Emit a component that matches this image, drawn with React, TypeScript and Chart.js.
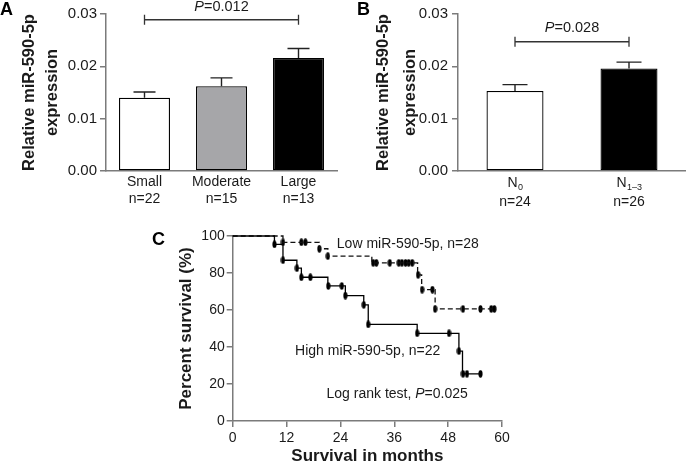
import React, { useEffect, useRef } from 'react';
import { Chart, registerables } from 'chart.js';

Chart.register(...registerables);

// ---------- Panel A: tumour size ----------
const sizeCategories = ['Small', 'Moderate', 'Large'];
const sizeCounts = ['n=22', 'n=15', 'n=13'];
const sizeMeans = [0.014, 0.0162, 0.0216];
const sizeErrors = [0.0011, 0.0016, 0.0018];
const sizePValue = '0.012';

// ---------- Panel B: lymph node ----------
const nodeMain = ['N', 'N'];
const nodeSub = ['0', '1–3'];
const nodeCounts = ['n=24', 'n=26'];
const nodeMeans = [0.0153, 0.0196];
const nodeErrors = [0.0012, 0.0012];
const nodePValue = '0.028';

// shared bar y ticks
const barYMin = 0;
const barYMax = 0.03;
const barYStep = 0.01;

// ---------- Panel C: Kaplan–Meier ----------
const highTimes = [0, 9.3, 11.2, 14.3, 15.3, 21.2, 25.1, 29.2, 30.2, 41.1, 50.4, 51.2, 55.2];
const highSurvival = [100, 95.5, 86.9, 82.6, 77.7, 73.0, 67.8, 62.8, 52.2, 47.4, 37.8, 25.5, 25.5];
const highCensored = [9.3, 11.2, 14.3, 15.3, 17.3, 21.3, 24.3, 25.1, 29.2, 30.2, 41.1, 48.2, 50.4, 51.3, 52.2, 55.2];
const lowTimes = [0, 11.2, 19.3, 21.2, 31.0, 41.2, 42.1, 45.1, 58.3];
const lowSurvival = [100, 96.6, 93.1, 89.1, 85.5, 79.0, 71.0, 60.6, 60.6];
const lowCensored = [11.2, 15.3, 16.2, 19.3, 21.2, 31.3, 32.0, 35.0, 37.0, 37.7, 38.5, 39.2, 40.0, 41.3, 42.2, 44.5, 45.1, 51.3, 55.2, 57.6, 58.3];
const kmXTicks = { min: 0, max: 60, step: 12 };
const kmYTicks = { min: 0, max: 100, step: 20 };
const lowLabel = 'Low miR-590-5p, n=28';
const highLabel = 'High miR-590-5p, n=22';
const logRankPrefix = 'Log rank test, ';
const logRankP = '0.025';

// ---------- styles ----------
const FONT = '"Liberation Sans", Arial, Helvetica, sans-serif';
const AXIS = '#7b7b7b';
const TEXT = '#1a1a1a';

function levelAt(times: number[], surv: number[], t: number) {
  let v = surv[0];
  for (let i = 0; i < times.length; i++) if (times[i] <= t + 1e-9) v = surv[i];
  return v;
}

function drawPText(ctx: CanvasRenderingContext2D, x: number, y: number, prefix: string, value: string, size: number, align: 'center' | 'left') {
  ctx.save();
  ctx.fillStyle = TEXT;
  ctx.textBaseline = 'middle';
  ctx.textAlign = 'left';
  const normal = `${size}px ${FONT}`;
  const italic = `italic ${size}px ${FONT}`;
  ctx.font = normal;
  const w0 = ctx.measureText(prefix).width;
  const rest = '=' + value;
  const w2 = ctx.measureText(rest).width;
  ctx.font = italic;
  const w1 = ctx.measureText('P').width;
  let x0 = align === 'center' ? x - (w0 + w1 + w2) / 2 : x;
  ctx.font = normal;
  if (prefix) ctx.fillText(prefix, x0, y);
  ctx.font = italic;
  ctx.fillText('P', x0 + w0, y);
  ctx.font = normal;
  ctx.fillText(rest, x0 + w0 + w1, y);
  ctx.restore();
}

function drawLetter(ctx: CanvasRenderingContext2D, letter: string, x: number, y: number) {
  ctx.save();
  ctx.fillStyle = '#000';
  ctx.font = `bold 18px ${FONT}`;
  ctx.textBaseline = 'alphabetic';
  ctx.textAlign = 'left';
  ctx.fillText(letter, x, y);
  ctx.restore();
}

const errorBarPlugin = {
  id: 'errorBars',
  afterDatasetsDraw(chart: any, _a: any, opts: any) {
    const { ctx } = chart;
    const meta = chart.getDatasetMeta(0);
    const ys = chart.scales.y;
    const ds = chart.data.datasets[0];
    ctx.save();
    ctx.strokeStyle = '#222';
    ctx.lineWidth = 1.4;
    meta.data.forEach((bar: any, i: number) => {
      const v = ds.data[i] as number;
      const yTop = ys.getPixelForValue(v + opts.errors[i]);
      ctx.beginPath();
      ctx.moveTo(bar.x, bar.y);
      ctx.lineTo(bar.x, yTop);
      ctx.moveTo(bar.x - opts.cap / 2, yTop);
      ctx.lineTo(bar.x + opts.cap / 2, yTop);
      ctx.stroke();
    });
    ctx.restore();
  },
};

const bracketPlugin = {
  id: 'bracket',
  afterDraw(chart: any, _a: any, opts: any) {
    const { ctx } = chart;
    const xs = chart.scales.x;
    const ys = chart.scales.y;
    const x1 = xs.getPixelForValue(opts.from);
    const x2 = xs.getPixelForValue(opts.to);
    const y = ys.getPixelForValue(opts.level);
    ctx.save();
    ctx.strokeStyle = '#333';
    ctx.lineWidth = 1.3;
    ctx.beginPath();
    ctx.moveTo(x1, y); ctx.lineTo(x2, y);
    ctx.moveTo(x1, y - 5); ctx.lineTo(x1, y + 5);
    ctx.moveTo(x2, y - 5); ctx.lineTo(x2, y + 5);
    ctx.stroke();
    ctx.restore();
    drawPText(ctx, (x1 + x2) / 2, ys.getPixelForValue(opts.textLevel), '', opts.p, 14.5, 'center');
    drawLetter(ctx, opts.letter, opts.letterX, 15);
  },
};

function barYScale(width: number, tickPad: number, lineHeight: number, titlePad: number) {
  return {
    min: barYMin,
    max: barYMax,
    ticks: {
      stepSize: barYStep,
      callback: (v: any) => Number(v).toFixed(2),
      font: { family: FONT, size: 15 },
      color: TEXT,
      padding: tickPad,
    },
    grid: { drawOnChartArea: false, tickLength: 6, color: AXIS, lineWidth: 1.5 },
    border: { color: AXIS, width: 1.5 },
    title: {
      display: true,
      text: ['Relative miR-590-5p', 'expression'],
      font: { family: FONT, size: 16.5, weight: 'bold', lineHeight },
      color: TEXT,
      padding: { top: titlePad, bottom: 0 },
    },
    afterFit: (s: any) => { s.width = width; },
  };
}

function makeMark() {
  const c = document.createElement('canvas');
  c.width = 5; c.height = 8;
  const g = c.getContext('2d')!;
  g.fillStyle = '#000';
  g.beginPath();
  g.ellipse(2.5, 4, 2.1, 3.7, 0, 0, Math.PI * 2);
  g.fill();
  return c;
}

export default function App() {
  const refA = useRef<HTMLCanvasElement>(null);
  const refB = useRef<HTMLCanvasElement>(null);
  const refC = useRef<HTMLCanvasElement>(null);

  useEffect(() => {
    const charts: Chart[] = [];

    charts.push(new Chart(refA.current!, {
      type: 'bar',
      data: {
        labels: sizeCategories.map((c, i) => [c, sizeCounts[i]]),
        datasets: [{
          data: sizeMeans,
          backgroundColor: ['#ffffff', '#a6a6a9', '#000000'],
          borderColor: '#000',
          borderWidth: 1.3,
          borderSkipped: false,
          barPercentage: 0.662,
          categoryPercentage: 1,
        }],
      },
      plugins: [errorBarPlugin, bracketPlugin],
      options: {
        responsive: false,
        animation: false,
        layout: { padding: { top: 14, right: 3, left: 0, bottom: 0 } },
        plugins: {
          legend: { display: false },
          tooltip: { enabled: false },
          errorBars: { errors: sizeErrors, cap: 22 },
          bracket: { from: 0, to: 2, level: 0.0289, textLevel: 0.0313, p: sizePValue, letter: 'A', letterX: 0 },
        } as any,
        scales: {
          x: {
            grid: { display: true, drawOnChartArea: false, drawTicks: false, color: AXIS },
            border: { color: AXIS, width: 1.5 },
            ticks: { font: { family: FONT, size: 14 }, color: TEXT, padding: 2.5 },
            afterFit: (s: any) => { s.height = 44; },
          },
          y: barYScale(106, 3, 1.41, 18),
        } as any,
      },
    }));

    const nodeLabelPlugin = {
      id: 'nodeLabels',
      afterDraw(chart: any) {
        const { ctx } = chart;
        const xs = chart.scales.x;
        const base = chart.chartArea.bottom;
        ctx.save();
        ctx.fillStyle = TEXT;
        nodeMain.forEach((m, i) => {
          const cx = xs.getPixelForValue(i);
          ctx.font = `14px ${FONT}`;
          const wm = ctx.measureText(m).width;
          ctx.font = `9px ${FONT}`;
          const ws = ctx.measureText(nodeSub[i]).width;
          const x0 = cx - (wm + ws) / 2;
          ctx.textAlign = 'left';
          ctx.textBaseline = 'alphabetic';
          ctx.font = `14px ${FONT}`;
          ctx.fillText(m, x0, base + 15.5);
          ctx.font = `9px ${FONT}`;
          ctx.fillText(nodeSub[i], x0 + wm + 0.5, base + 19);
          ctx.font = `14px ${FONT}`;
          ctx.textAlign = 'center';
          ctx.textBaseline = 'middle';
          ctx.fillText(nodeCounts[i], cx, base + 30.7);
        });
        ctx.restore();
      },
    };

    charts.push(new Chart(refB.current!, {
      type: 'bar',
      data: {
        labels: nodeMain.map((m, i) => m + nodeSub[i]),
        datasets: [{
          data: nodeMeans,
          backgroundColor: ['#ffffff', '#000000'],
          borderColor: '#000',
          borderWidth: 1.3,
          borderSkipped: false,
          barPercentage: 0.5,
          categoryPercentage: 1,
        }],
      },
      plugins: [errorBarPlugin, bracketPlugin, nodeLabelPlugin],
      options: {
        responsive: false,
        animation: false,
        layout: { padding: { top: 14, right: 0, left: 0, bottom: 0 } },
        plugins: {
          legend: { display: false },
          tooltip: { enabled: false },
          errorBars: { errors: nodeErrors, cap: 25 },
          bracket: { from: 0, to: 1, level: 0.0247, textLevel: 0.0274, p: nodePValue, letter: 'B', letterX: 17 },
        } as any,
        scales: {
          x: {
            grid: { display: true, drawOnChartArea: false, drawTicks: false, color: AXIS },
            border: { color: AXIS, width: 1.5 },
            ticks: { display: false },
            afterFit: (s: any) => { s.height = 44; },
          },
          y: barYScale(118, 4, 1.64, 29.8),
        } as any,
      },
    }));

    const mark = makeMark();
    const kmTextPlugin = {
      id: 'kmText',
      afterDraw(chart: any) {
        const { ctx } = chart;
        const xs = chart.scales.x;
        const ys = chart.scales.y;
        ctx.save();
        ctx.fillStyle = TEXT;
        ctx.font = `14px ${FONT}`;
        ctx.textAlign = 'left';
        ctx.textBaseline = 'middle';
        ctx.fillText(lowLabel, xs.getPixelForValue(23.2), ys.getPixelForValue(95.7));
        ctx.fillText(highLabel, xs.getPixelForValue(13.9), ys.getPixelForValue(38));
        ctx.restore();
        drawPText(ctx, xs.getPixelForValue(20.9), ys.getPixelForValue(14.6), logRankPrefix, logRankP, 14, 'left');
        drawLetter(ctx, 'C', 12, 25);
      },
    };

    charts.push(new Chart(refC.current!, {
      type: 'line',
      data: {
        datasets: [
          {
            data: highTimes.map((t, i) => ({ x: t, y: highSurvival[i] })),
            borderColor: '#000', borderWidth: 1.3, pointRadius: 0, stepped: 'before', fill: false, clip: false,
          },
          {
            data: lowTimes.map((t, i) => ({ x: t, y: lowSurvival[i] })),
            borderColor: '#111', borderWidth: 1.3, borderDash: [5, 3], pointRadius: 0, stepped: 'before', fill: false, clip: false,
          },
          {
            data: highCensored.map((t) => ({ x: t, y: levelAt(highTimes, highSurvival, t) })),
            showLine: false, pointStyle: mark, pointRadius: 4, clip: false,
          },
          {
            data: lowCensored.map((t) => ({ x: t, y: levelAt(lowTimes, lowSurvival, t) })),
            showLine: false, pointStyle: mark, pointRadius: 4, clip: false,
          },
        ] as any,
      },
      plugins: [kmTextPlugin],
      options: {
        responsive: false,
        animation: false,
        layout: { padding: { top: 16, right: 18, left: 0, bottom: 0 } },
        plugins: { legend: { display: false }, tooltip: { enabled: false } },
        scales: {
          x: {
            type: 'linear',
            min: kmXTicks.min, max: kmXTicks.max,
            ticks: { stepSize: kmXTicks.step, font: { family: FONT, size: 14 }, color: TEXT, padding: 3 },
            grid: { drawOnChartArea: false, tickLength: 6, color: AXIS, lineWidth: 1.5 },
            border: { color: AXIS, width: 1.5 },
            title: {
              display: true, text: 'Survival in months',
              font: { family: FONT, size: 17, weight: 'bold', lineHeight: 0.94 },
              color: TEXT, padding: { top: 0, bottom: 0 },
            },
            afterFit: (s: any) => { s.height = 43; },
          },
          y: {
            min: kmYTicks.min, max: kmYTicks.max,
            ticks: { stepSize: kmYTicks.step, font: { family: FONT, size: 14 }, color: TEXT, padding: 2 },
            grid: { drawOnChartArea: false, tickLength: 6, color: AXIS, lineWidth: 1.5 },
            border: { color: AXIS, width: 1.5 },
            title: {
              display: true, text: 'Percent survival (%)',
              font: { family: FONT, size: 17, weight: 'bold', lineHeight: 1.2 },
              color: TEXT, padding: { top: 35.8, bottom: 0 },
            },
            afterFit: (s: any) => { s.width = 92.7; },
          },
        } as any,
      },
    }));

    return () => charts.forEach((c) => c.destroy());
  }, []);

  return (
    <div style={{ position: 'absolute', left: 0, top: 0, width: 686, height: 464, background: '#fff', overflow: 'hidden' }}>
      <canvas ref={refA} width={340} height={215} style={{ position: 'absolute', left: 0, top: 0 }} />
      <canvas ref={refB} width={346} height={215} style={{ position: 'absolute', left: 340, top: 0 }} />
      <canvas ref={refC} width={380} height={244} style={{ position: 'absolute', left: 140, top: 220 }} />
    </div>
  );
}
